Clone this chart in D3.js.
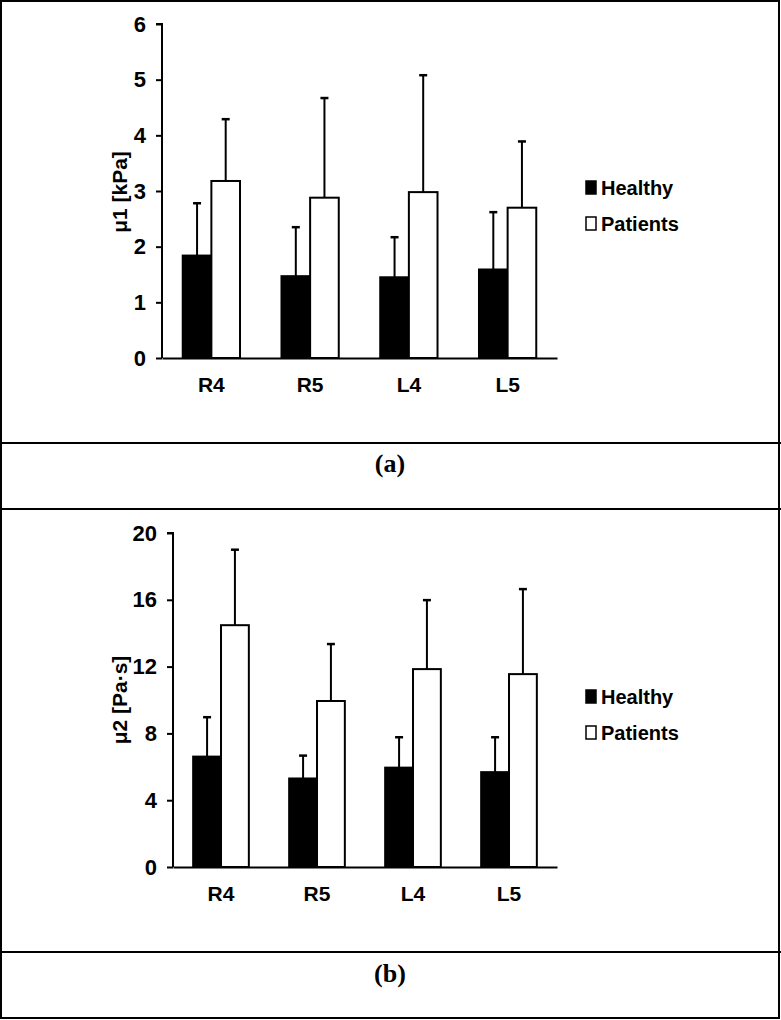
<!DOCTYPE html>
<html>
<head>
<meta charset="utf-8">
<script src="https://cdn.jsdelivr.net/npm/d3@7"></script>
<style>
  html, body { margin: 0; padding: 0; background: #fff; }
  svg { display: block; }
</style>
</head>
<body>
<script>
// ---- data ----
const categories = ["R4", "R5", "L4", "L5"];
const seriesNames = ["Healthy", "Patients"];

const mu1Healthy = [1.84, 1.47, 1.45, 1.59];
const mu1HealthySD = [0.94, 0.88, 0.72, 1.03];
const mu1Patients = [3.18, 2.88, 2.98, 2.70];
const mu1PatientsSD = [1.11, 1.79, 2.10, 1.19];
const mu1Ticks = [0, 1, 2, 3, 4, 5, 6];

const mu2Healthy = [6.61, 5.30, 5.95, 5.68];
const mu2HealthySD = [2.36, 1.37, 1.82, 2.09];
const mu2Patients = [14.48, 9.94, 11.85, 11.55];
const mu2PatientsSD = [4.52, 3.41, 4.13, 5.09];
const mu2Ticks = [0, 4, 8, 12, 16, 20];

const W = 781, H = 1020;
const svg = d3.select("body").append("svg").attr("width", W).attr("height", H);

const SANS = "'Liberation Sans', Arial, sans-serif";
const SERIF = "'Liberation Serif', 'Times New Roman', serif";

// outer frame and dividers
svg.append("rect").attr("x", 1).attr("y", 1).attr("width", W - 3).attr("height", H - 3)
  .attr("fill", "none").attr("stroke", "#000").attr("stroke-width", 2);
[443, 509, 952].forEach(y => {
  svg.append("line").attr("x1", 0).attr("x2", W).attr("y1", y).attr("y2", y)
    .attr("stroke", "#000").attr("stroke-width", 2);
});

svg.append("text").attr("x", 390).attr("y", 472).attr("text-anchor", "middle")
  .attr("font-family", SERIF).attr("font-weight", "bold").attr("font-size", 26).text("(a)");
svg.append("text").attr("x", 390).attr("y", 982).attr("text-anchor", "middle")
  .attr("font-family", SERIF).attr("font-weight", "bold").attr("font-size", 26).text("(b)");

function drawPanel(cfg) {
  const x0 = d3.scaleBand().domain(categories).range([cfg.left, cfg.right]).paddingInner(0.42).paddingOuter(0.21);
  const x1 = d3.scaleBand().domain(seriesNames).range([0, x0.bandwidth()]);
  const y = d3.scaleLinear().domain([0, cfg.max]).range([cfg.bottom, cfg.top]);

  const g = svg.append("g");

  const rows = categories.map((c, i) => ({
    cat: c,
    vals: [
      { s: "Healthy", v: cfg.h[i], sd: cfg.hsd[i] },
      { s: "Patients", v: cfg.p[i], sd: cfg.psd[i] }
    ]
  }));

  const grp = g.selectAll("g.grp").data(rows).join("g")
    .attr("transform", d => `translate(${x0(d.cat)},0)`);

  // error bars (upper only)
  grp.selectAll("g.err").data(d => d.vals).join("g").each(function(d) {
    const cx = x1(d.s) + x1.bandwidth() / 2;
    const sel = d3.select(this);
    sel.append("line").attr("x1", cx).attr("x2", cx)
      .attr("y1", y(d.v)).attr("y2", y(d.v + d.sd))
      .attr("stroke", "#000").attr("stroke-width", 2);
    sel.append("line").attr("x1", cx - 4).attr("x2", cx + 4)
      .attr("y1", y(d.v + d.sd)).attr("y2", y(d.v + d.sd))
      .attr("stroke", "#000").attr("stroke-width", 2.5);
  });

  grp.selectAll("rect").data(d => d.vals).join("rect")
    .attr("x", d => x1(d.s))
    .attr("width", x1.bandwidth())
    .attr("y", d => y(d.v))
    .attr("height", d => y(0) - y(d.v))
    .attr("fill", d => d.s === "Healthy" ? "#000" : "#fff")
    .attr("stroke", "#000").attr("stroke-width", 2);

  // y axis
  const yAxis = d3.axisLeft(y).tickValues(cfg.ticks).tickSize(6).tickPadding(10).tickFormat(d3.format("d"));
  const ya = g.append("g").attr("transform", `translate(${cfg.left},0)`).call(yAxis);
  ya.select(".domain").attr("stroke", "#000").attr("stroke-width", 2).attr("d", `M-6,${cfg.top}H0V${cfg.bottom}`);
  ya.selectAll(".tick line").attr("stroke", "#000").attr("stroke-width", 2);
  ya.selectAll(".tick text").attr("font-family", SANS).attr("font-weight", "bold")
    .attr("font-size", 22).attr("fill", "#000");

  // x axis
  const xAxis = d3.axisBottom(x0).tickSize(0).tickPadding(19);
  const xa = g.append("g").attr("transform", `translate(0,${cfg.bottom})`).call(xAxis);
  xa.select(".domain").attr("stroke", "#000").attr("stroke-width", 2);
  xa.selectAll(".tick text").attr("font-family", SANS).attr("font-weight", "bold")
    .attr("font-size", 21).attr("fill", "#000");

  // axis title
  g.append("text").attr("transform", `translate(${cfg.titleX},${cfg.titleY}) rotate(-90)`)
    .attr("text-anchor", "middle").attr("font-family", SANS).attr("font-weight", "bold")
    .attr("font-size", 21).text(cfg.title);

  // legend
  const lg = g.append("g");
  seriesNames.forEach((s, i) => {
    const ly = cfg.legendY + i * 36;
    lg.append("rect").attr("x", 586).attr("y", ly - 14).attr("width", 10).attr("height", 13)
      .attr("fill", s === "Healthy" ? "#000" : "#fff").attr("stroke", "#000").attr("stroke-width", 1.5);
    lg.append("text").attr("x", 601).attr("y", ly).attr("font-family", SANS).attr("font-weight", "bold")
      .attr("font-size", 20).text(s);
  });
}

drawPanel({
  left: 162, right: 557, top: 24, bottom: 358, max: 6, ticks: mu1Ticks,
  h: mu1Healthy, hsd: mu1HealthySD, p: mu1Patients, psd: mu1PatientsSD,
  title: "μ1 [kPa]", titleX: 127, titleY: 192, legendY: 195
});

drawPanel({
  left: 173, right: 557, top: 533, bottom: 867, max: 20, ticks: mu2Ticks,
  h: mu2Healthy, hsd: mu2HealthySD, p: mu2Patients, psd: mu2PatientsSD,
  title: "μ2 [Pa·s]", titleX: 127, titleY: 700, legendY: 704
});
</script>
</body>
</html>
